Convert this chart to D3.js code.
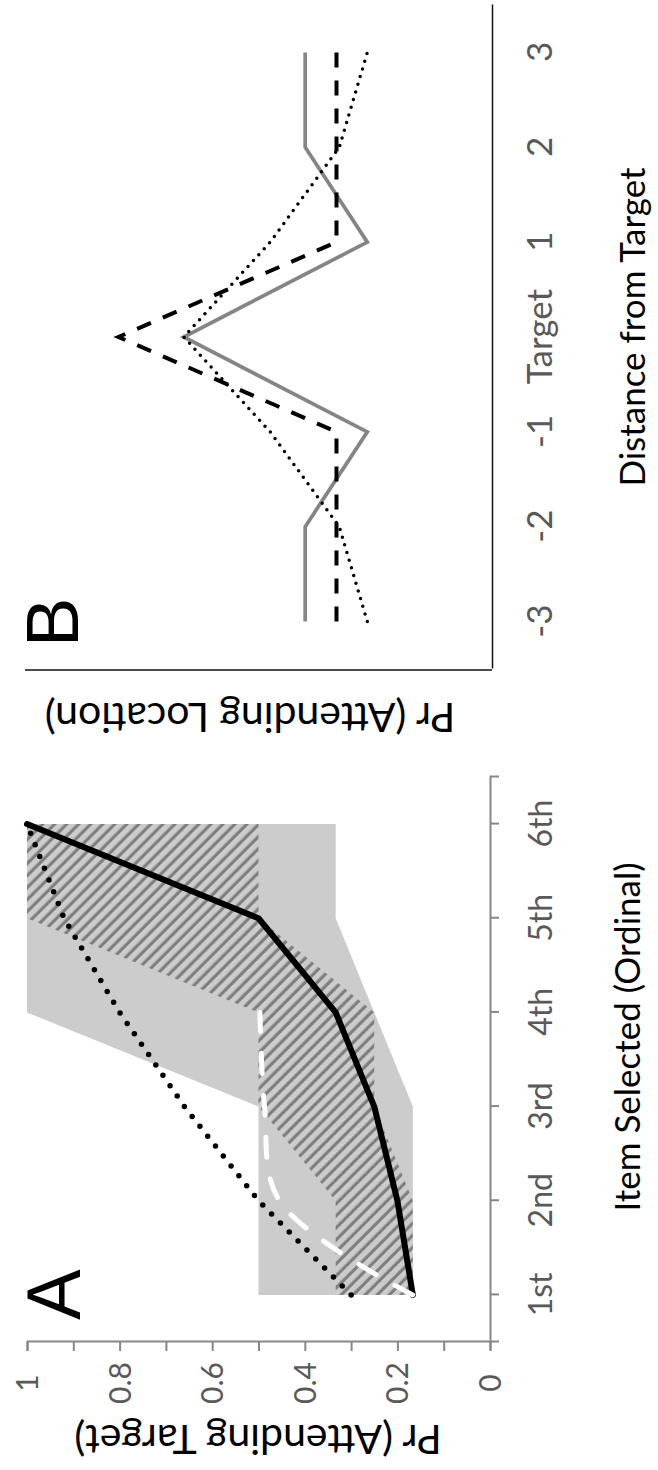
<!DOCTYPE html>
<html><head><meta charset="utf-8">
<script src="https://cdn.jsdelivr.net/npm/d3@7"></script>
<style>html,body{margin:0;padding:0;background:#fff;} svg{display:block;}</style>
</head><body>
<svg id="chart" width="658" height="1470"></svg>
<script>
// ---------- Panel A data ----------
const catsA = ["1st","2nd","3rd","4th","5th","6th"];
const solidA = [1/6, 0.2, 0.25, 1/3, 0.5, 1.0];
const dottedA = [0.30, 0.50, 0.66, 0.80, 0.92, 1.0];
const whiteCats = ["1st","2nd","3rd","4th"];
const whiteA = [0.167, 0.455, 0.487, 0.497];
const lightMin = [1/6, 1/6, 1/6, 0.25, 1/3, 1/3];
const lightMax = [0.5, 0.5, 0.5, 1.0, 1.0, 1.0];
const hatchMin = [1/6, 1/6, 0.25, 0.25, 0.5, 0.5];
const hatchMax = [1/3, 1/3, 0.5, 0.5, 1.0, 1.0];
const ticksA = [0,0.1,0.2,0.3,0.4,0.5,0.6,0.7,0.8,0.9,1];
const tickLabelsA = ["0","","0.2","","0.4","","0.6","","0.8","","1"];

// ---------- Panel B data ----------
const catsB = ["-3","-2","-1","Target","1","2","3"];
const grayB = [0.40, 0.40, 0.267, 0.66, 0.267, 0.40, 0.40];
const dashedB = [0.333, 0.333, 0.333, 0.80, 0.333, 0.333, 0.333];
const dottedB = [0.267, 0.327, 0.475, 0.66, 0.475, 0.327, 0.267];

const svg = d3.select("#chart");
const defs = svg.append("defs");
const pat = defs.append("pattern").attr("id","hatch").attr("patternUnits","userSpaceOnUse")
  .attr("width",8.5).attr("height",8.5).attr("patternTransform","rotate(-45)");
pat.append("rect").attr("width",8.5).attr("height",8.5).attr("fill","#cccccc");
pat.append("rect").attr("x",0).attr("width",3.2).attr("height",8.5).attr("fill","#7f7f7f");

// whole figure drawn in landscape coordinates then rotated
const g = svg.append("g").attr("transform","translate(0,1470) rotate(-90)");
const FONT = "Lato, 'Open Sans', sans-serif";

// ---------- Panel A ----------
const xA = d3.scalePoint().domain(catsA).range([128, 693]).padding(0.5);
const yA = d3.scaleLinear().domain([0,1]).range([490, 27]);

const areaA = (mins, maxs) => d3.area()
  .x((d,i)=>xA(catsA[i])).y0((d,i)=>yA(mins[i])).y1((d,i)=>yA(maxs[i]));
g.append("path").attr("d", areaA(lightMin, lightMax)(catsA)).attr("fill","#cccccc");
g.append("path").attr("d", areaA(hatchMin, hatchMax)(catsA)).attr("fill","url(#hatch)");

const axA = g.append("g").attr("transform","translate(128,0)")
  .call(d3.axisLeft(yA).tickValues(ticksA).tickSize(9).tickFormat((d,i)=>tickLabelsA[i]));
axA.select(".domain").attr("stroke","#878787").attr("stroke-width",2);
axA.selectAll(".tick line").attr("stroke","#878787").attr("stroke-width",2);
axA.selectAll(".tick text").attr("font-family",FONT).attr("font-size",30).attr("fill","#595959")
  .attr("text-anchor","middle").attr("x",-41).attr("dy","0.35em");

const axAx = g.append("g").attr("transform","translate(0,490)")
  .call(d3.axisBottom(xA).tickSize(9));
axAx.select(".domain").attr("stroke","#878787").attr("stroke-width",2);
axAx.selectAll(".tick line").attr("stroke","#878787").attr("stroke-width",2);
axAx.selectAll(".tick text").attr("font-family",FONT).attr("font-size",32).attr("fill","#595959")
  .attr("y",51).attr("dy","0.35em");

const lineA = (cats, vals, curve) => d3.line().x((d,i)=>xA(cats[i])).y((d,i)=>yA(vals[i])).curve(curve||d3.curveLinear)(vals);
g.append("path").attr("d", lineA(catsA, solidA)).attr("fill","none").attr("stroke","#000").attr("stroke-width",6).attr("stroke-linejoin","round").attr("stroke-linecap","round");
g.append("path").attr("d", lineA(whiteCats, whiteA, d3.curveCatmullRom)).attr("fill","none").attr("stroke","#fff").attr("stroke-width",5).attr("stroke-dasharray","20,22").attr("stroke-linecap","round");
g.append("path").attr("d", lineA(catsA, dottedA)).attr("fill","none").attr("stroke","#000").attr("stroke-width",5.5).attr("stroke-dasharray","0,12.6").attr("stroke-linecap","round");

g.append("text").attr("x",150).attr("y",80).attr("font-family","'Liberation Sans', Arial, sans-serif")
  .attr("font-size",76).attr("fill","#000").text("A");
g.append("text").attr("x",433).attr("y",640).attr("text-anchor","middle").attr("font-family",FONT)
  .attr("font-size",35).attr("fill","#000").text("Item Selected (Ordinal)");
g.append("text").attr("transform","translate(45,258) rotate(-90)").attr("text-anchor","middle")
  .attr("font-family",FONT).attr("font-size",41).attr("fill","#000").text("Pr (Attending Target)");

// ---------- Panel B ----------
const xB = d3.scalePoint().domain(catsB).range([801, 1465]).padding(0.5);
const yB = d3.scaleLinear().domain([0,1]).range([492, 25]);

g.append("line").attr("x1",800).attr("x2",800).attr("y1",25).attr("y2",492).attr("stroke","#111").attr("stroke-width",1.5);
const axBx = g.append("g").attr("transform","translate(0,492)").call(d3.axisBottom(xB).tickSize(0).tickSizeOuter(0));
axBx.select(".domain").attr("stroke","#111").attr("stroke-width",1.5);
axBx.selectAll(".tick text").attr("font-family",FONT).attr("font-size",35).attr("fill","#595959")
  .attr("y",48).attr("dy","0.35em");

const lineB = vals => d3.line().x((d,i)=>xB(catsB[i])).y(d=>yB(d))(vals);
g.append("path").attr("d", lineB(grayB)).attr("fill","none").attr("stroke","#858585").attr("stroke-width",3.7).attr("stroke-linejoin","miter");
g.append("path").attr("d", lineB(dashedB)).attr("fill","none").attr("stroke","#000").attr("stroke-width",4).attr("stroke-dasharray","15,13");
g.append("path").attr("d", lineB(dottedB)).attr("fill","none").attr("stroke","#000").attr("stroke-width",3.5).attr("stroke-dasharray","0,8").attr("stroke-linecap","round");

g.append("text").attr("x",823).attr("y",78).attr("font-family","'Liberation Sans', Arial, sans-serif")
  .attr("font-size",74).attr("fill","#000").text("B");
g.append("text").attr("x",1143).attr("y",645).attr("text-anchor","middle").attr("font-family",FONT)
  .attr("font-size",35).attr("fill","#000").text("Distance from Target");
g.append("text").attr("transform","translate(767,250) rotate(-90)").attr("text-anchor","middle")
  .attr("font-family",FONT).attr("font-size",41).attr("fill","#000").text("Pr (Attending Location)");
</script>
</body></html>
